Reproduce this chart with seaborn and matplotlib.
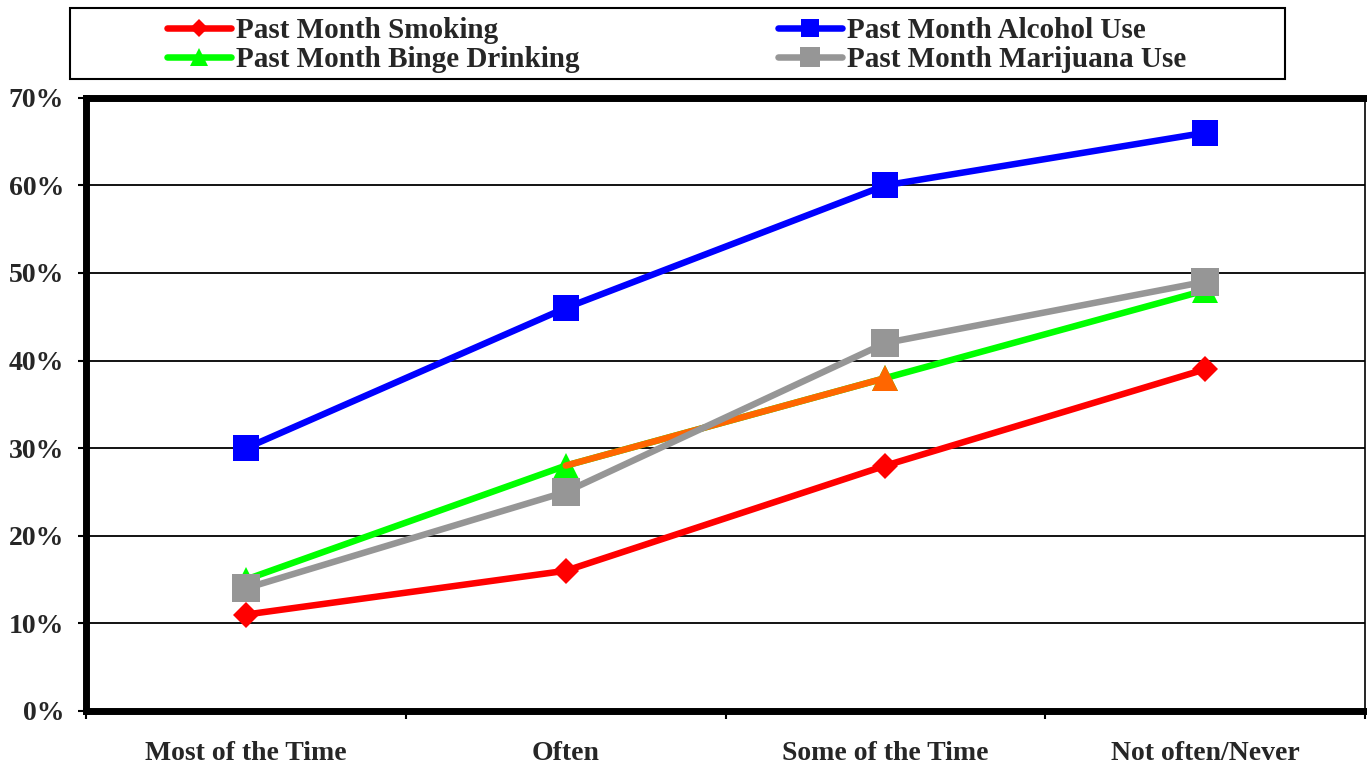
import numpy as np
import pandas as pd
import matplotlib
matplotlib.use("Agg")
import matplotlib.pyplot as plt
from matplotlib.patches import Rectangle
from matplotlib.ticker import PercentFormatter
import seaborn as sns

# --- data -------------------------------------------------------------
categories = ["Most of the Time", "Often", "Some of the Time", "Not often/Never"]
smoking = [11, 16, 28, 39]
alcohol = [30, 46, 60, 66]
binge = [15, 28, 38, 48]
marijuana = [14, 25, 42, 49]
series_names = [
    "Past Month Smoking",
    "Past Month Alcohol Use",
    "Past Month Binge Drinking",
    "Past Month Marijuana Use",
]
# part of the binge-drinking line drawn in orange (Often -> Some of the Time)
binge_highlight = [1, 2]
y_ticks = [0, 10, 20, 30, 40, 50, 60, 70]

# --- style ------------------------------------------------------------
sns.set_style("white")
plt.rcParams["font.family"] = ["Liberation Serif", "DejaVu Serif"]
plt.rcParams["font.weight"] = "bold"

styles = {
    "Past Month Smoking": dict(color="#FF0000", marker="D", markersize=13.5),
    "Past Month Alcohol Use": dict(color="#0000FF", marker="s", markersize=19),
    "Past Month Binge Drinking": dict(color="#00FF00", marker="^", markersize=19),
    "Past Month Marijuana Use": dict(color="#969696", marker="s", markersize=20),
}
highlight_color = "#FF6600"
LW = 4.7

fig = plt.figure(figsize=(13.67, 7.65), dpi=100)
ax = fig.add_axes([0.0631, 0.0707, 0.99854 - 0.0631, 0.8723 - 0.0707])

pos = np.arange(len(categories))
df = pd.DataFrame({
    "pos": np.tile(pos, len(series_names)),
    "value": smoking + alcohol + binge + marijuana,
    "series": np.repeat(series_names, len(categories)),
})

handles = {}
for name in series_names:
    sub = df[df["series"] == name]
    st = styles[name]
    sns.lineplot(data=sub, x="pos", y="value", ax=ax, color=st["color"],
                 marker=st["marker"], markersize=st["markersize"],
                 markeredgewidth=0, linewidth=LW, errorbar=None,
                 sort=False, legend=False)
    handles[name] = ax.lines[-1]
    if name == "Past Month Binge Drinking":
        seg = sub.iloc[binge_highlight]
        sns.lineplot(data=seg, x="pos", y="value", ax=ax, color=highlight_color,
                     marker="^", markersize=st["markersize"], markevery=[1],
                     markeredgewidth=0, linewidth=LW, errorbar=None,
                     sort=False, legend=False)

# --- axes -------------------------------------------------------------
ax.set_xlim(-0.5, len(categories) - 0.5)
ax.set_ylim(0, 70)
ax.set_xticks(pos)
ax.set_xticklabels(categories)
ax.set_xticks(np.arange(-0.5, len(categories), 1.0), minor=True)
ax.set_yticks(y_ticks)
ax.yaxis.set_major_formatter(PercentFormatter(decimals=0))
ax.set_xlabel("")
ax.set_ylabel("")

ax.tick_params(axis="x", which="major", length=0, pad=22, labelsize=20)
ax.tick_params(axis="x", which="minor", length=6, width=1.5, direction="out",
               color="black", bottom=True)
ax.tick_params(axis="y", length=6, width=1.5, direction="out", color="black",
               pad=10, labelsize=20, left=True)

ax.yaxis.grid(True, color="black", linewidth=1.3)
ax.xaxis.grid(False)
ax.set_axisbelow(True)

for side in ["left", "top", "bottom"]:
    ax.spines[side].set_linewidth(5)
    ax.spines[side].set_color("black")
ax.spines["right"].set_linewidth(1.2)
ax.spines["right"].set_color("black")

# --- legend -----------------------------------------------------------
order = ["Past Month Smoking", "Past Month Binge Drinking",
         "Past Month Alcohol Use", "Past Month Marijuana Use"]
fig.legend([handles[n] for n in order], order,
           loc="center left", bbox_to_anchor=(167 / 1367, 1 - 45 / 765),
           ncol=2, frameon=False, prop={"weight": "bold", "size": 21},
           handlelength=2.2, handletextpad=0.17, columnspacing=6.8,
           labelspacing=0.05, borderpad=0, borderaxespad=0, markerscale=0.7)
fig.add_artist(Rectangle((70 / 1367, 1 - 79 / 765), (1285 - 70) / 1367, 71 / 765,
                         transform=fig.transFigure, fill=False,
                         edgecolor="black", linewidth=1.5))

fig.savefig("out.png", dpi=100)
